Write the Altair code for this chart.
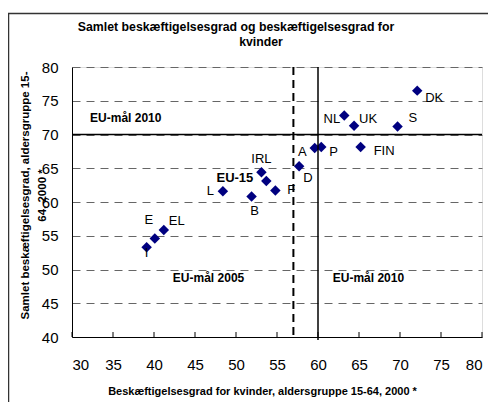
import altair as alt
import pandas as pd

countries = ["DK", "NL", "UK", "S", "FIN", "A", "P", "D", "IRL", "EU-15", "F", "B", "L", "E", "EL", "I"]
women = [72.1, 63.2, 64.4, 69.7, 65.2, 59.6, 60.4, 57.7, 53.1, 53.7, 54.8, 51.9, 48.4, 40.1, 41.2, 39.1]
total = [76.5, 72.8, 71.3, 71.2, 68.15, 68.0, 68.15, 65.3, 64.4, 63.1, 61.7, 60.8, 61.6, 54.6, 55.85, 53.3]

# label placement (pixel offsets, alignment, weight)
label_style = {
    "DK": (8, 7, "left", "normal"),
    "NL": (-4, 3, "right", "normal"),
    "UK": (5, -7, "left", "normal"),
    "S": (11, -8, "left", "normal"),
    "FIN": (13, 4, "left", "normal"),
    "A": (-8, 4, "right", "normal"),
    "P": (8, 5, "left", "normal"),
    "D": (4, 12, "left", "normal"),
    "IRL": (0, -13, "center", "normal"),
    "EU-15": (-13, -3, "right", "bold"),
    "F": (12, -1, "left", "normal"),
    "B": (3, 14, "center", "normal"),
    "L": (-9, 0, "right", "normal"),
    "E": (-6, -18, "center", "normal"),
    "EL": (5, -9, "left", "normal"),
    "I": (0, 6, "center", "normal"),
}

goal_texts = ["EU-mål 2010", "EU-mål 2005", "EU-mål 2010"]
goal_x = [32.2, 42.3, 61.8]
goal_y = [72.5, 48.7, 48.7]

x_ticks = [30, 35, 40, 45, 50, 55, 60, 65, 70, 75, 80]
y_ticks = [40, 45, 50, 55, 60, 65, 70, 75, 80]

title_lines = ["Samlet beskæftigelsesgrad og beskæftigelsesgrad for", "kvinder"]
x_title = "Beskæftigelsesgrad for kvinder, aldersgruppe 15-64, 2000 *"
y_title = ["Samlet beskæftigelsesgrad, aldersgruppe 15-", "64, 2000 *"]

FONT = "Liberation Sans, Arial, sans-serif"

df = pd.DataFrame({"country": countries, "women": women, "total": total})
goals = pd.DataFrame({"text": goal_texts, "x": goal_x, "y": goal_y})
ticks_df = pd.DataFrame({"t": x_ticks})

xs = alt.Scale(domain=[30, 80], nice=False, zero=False)
ys = alt.Scale(domain=[40, 80], nice=False, zero=False)

x_axis = alt.Axis(
    title=x_title, values=x_ticks, grid=False, ticks=False, tickSize=0, labelOverlap=False,
    domainColor="black", domainWidth=1,
    labelFont=FONT, labelFontSize=15, labelColor="black", labelBaseline="middle", labelPadding=27,
    titleFont=FONT, titleFontSize=11, titleFontWeight="bold", titleColor="black",
    titleX=190, titleY=54, titleBaseline="middle", titleAnchor="middle")
y_axis = alt.Axis(
    title=y_title, values=y_ticks, grid=True, gridColor="#666666", gridDash=[8, 6], gridWidth=1,
    ticks=False, tickSize=0, labelOverlap=False, domainColor="black", domainWidth=1,
    labelFont=FONT, labelFontSize=15, labelColor="black", labelPadding=14,
    titleFont=FONT, titleFontSize=11.5, titleFontWeight="bold", titleColor="black",
    titleAngle=-90, titleX=-47, titleY=128, titleAlign="center", titleBaseline="middle",
    titleLineHeight=17)

XA = lambda f: alt.X(f, scale=xs, axis=x_axis)
YA = lambda f: alt.Y(f, scale=ys, axis=y_axis)

base = alt.Chart(df)

points = base.mark_point(shape="diamond", filled=True, size=110, color="#000080", opacity=1).encode(
    x=XA("women:Q"), y=YA("total:Q"))

label_layers = []
for c, (dx, dy, al, fw) in label_style.items():
    label_layers.append(
        base.transform_filter(alt.datum.country == c)
        .mark_text(dx=dx, dy=dy, align=al, baseline="middle", font=FONT, fontSize=13,
                   fontWeight=fw, color="black")
        .encode(x=XA("women:Q"), y=YA("total:Q"), text="country:N")
    )

goal_layer = alt.Chart(goals).mark_text(align="left", baseline="middle", font=FONT, fontSize=12,
                                         fontWeight="bold", color="black").encode(
    x=XA("x:Q"), y=YA("y:Q"), text="text:N")

hline = alt.Chart(pd.DataFrame({"y": [70]})).mark_rule(color="black", strokeWidth=1.5).encode(
    y=YA("y:Q"))
vline = alt.Chart(pd.DataFrame({"x": [60]})).mark_rule(color="black", strokeWidth=1.5).encode(
    x=XA("x:Q"), y=alt.value(0), y2=alt.value(273))
vdash = alt.Chart(pd.DataFrame({"x": [57]})).mark_rule(color="black", strokeWidth=2, strokeDash=[8, 5]).encode(
    x=XA("x:Q"), y=alt.value(0), y2=alt.value(273))
xticks = alt.Chart(ticks_df).mark_rule(color="black", strokeWidth=1).encode(
    x=XA("t:Q"), y=alt.value(265), y2=alt.value(270))

frame_left = alt.Chart(pd.DataFrame({"a": [0]})).mark_rule(color="#333333", strokeWidth=1.5).encode(
    x=alt.value(-63.5), y=alt.value(-54), y2=alt.value(340))
frame_top = alt.Chart(pd.DataFrame({"a": [0]})).mark_rule(color="#333333", strokeWidth=1.5).encode(
    x=alt.value(-64), x2=alt.value(424), y=alt.value(-53.5))

title1 = alt.Chart(pd.DataFrame({"t": [title_lines[0]]})).mark_text(
    font=FONT, fontSize=12.3, fontWeight="bold", color="black", align="center", baseline="middle").encode(
    text="t:N", x=alt.value(164), y=alt.value(-40))
title2 = alt.Chart(pd.DataFrame({"t": [title_lines[1]]})).mark_text(
    font=FONT, fontSize=12.3, fontWeight="bold", color="black", align="center", baseline="middle").encode(
    text="t:N", x=alt.value(189), y=alt.value(-25))

chart = alt.layer(
    points, vdash, vline, hline, xticks, *label_layers, goal_layer,
    frame_left, frame_top, title1, title2
).properties(
    width=410, height=270,
    autosize=alt.AutoSizeParams(type="none"),
    padding={"left": 64, "top": 59, "right": 6, "bottom": 65},
).configure_view(stroke=None).configure(background="white")

chart.save("out.html", embed_options={"renderer": "svg", "actions": False})
